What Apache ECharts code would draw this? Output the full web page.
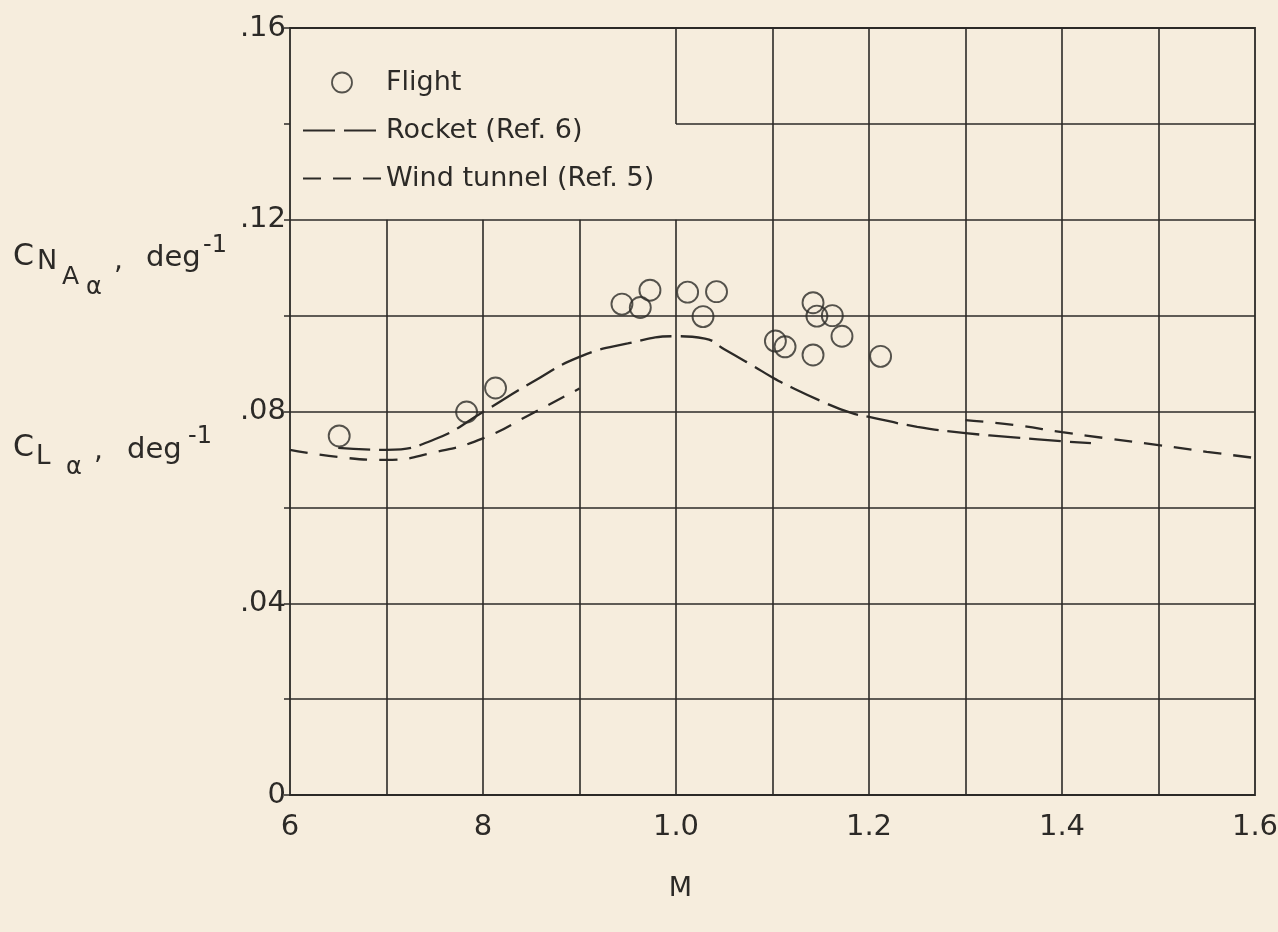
<!DOCTYPE html>
<html>
<head>
<meta charset="utf-8">
<title>Lift-curve slope vs Mach number</title>
<script src="https://cdn.jsdelivr.net/npm/echarts@6/dist/echarts.min.js"></script>
<style>
  html, body { margin: 0; padding: 0; background: #f6eddd; }
  #chart { width: 1278px; height: 932px; }
</style>
</head>
<body>
<div id="chart"></div>
<script>
// flight test points
const flightM  = [0.651, 0.783, 0.813, 0.944, 0.963, 0.973, 1.012, 1.028, 1.042, 1.103, 1.113, 1.142, 1.146, 1.162, 1.172, 1.142, 1.212];
const flightCN = [0.0749, 0.0799, 0.0849, 0.1024, 0.1017, 0.1053, 0.1049, 0.0998, 0.1050, 0.0947, 0.0935, 0.1027, 0.0999, 0.1000, 0.0957, 0.0918, 0.0915];

// rocket model (Ref. 6)
const rocketM  = [0.65, 0.70, 0.75, 0.80, 0.85, 0.90, 0.95, 1.00, 1.03, 1.05, 1.08, 1.10, 1.12, 1.15, 1.18, 1.20, 1.25, 1.30, 1.35, 1.40, 1.43];
const rocketCN = [0.0724, 0.0720, 0.0742, 0.0799, 0.0860, 0.0914, 0.0942, 0.0957, 0.0952, 0.0930, 0.0895, 0.0871, 0.0850, 0.0822, 0.0798, 0.0789, 0.0768, 0.0755, 0.0746, 0.0738, 0.0734];

// wind tunnel (Ref. 5), subsonic and supersonic branches
const tunnelLowM   = [0.60, 0.65, 0.70, 0.75, 0.80, 0.85, 0.90];
const tunnelLowCL  = [0.0720, 0.0705, 0.0699, 0.0715, 0.0744, 0.0795, 0.0848];
const tunnelHighM  = [1.30, 1.35, 1.40, 1.45, 1.50, 1.55, 1.60];
const tunnelHighCL = [0.0782, 0.0772, 0.0757, 0.0743, 0.0730, 0.0716, 0.0703];

// tick labels
const xTicks = [0.6, 0.8, 1.0, 1.2, 1.4, 1.6];
const xTickLabels = ['6', '8', '1.0', '1.2', '1.4', '1.6'];
const yTicks = [0, 0.04, 0.08, 0.12, 0.16];
const yTickLabels = ['0', '.04', '.08', '.12', '.16'];

// grid lines of the paper
const gridV = [0.7, 0.8, 0.9, 1.0, 1.1, 1.2, 1.3, 1.4, 1.5];
const gridH = [0.02, 0.04, 0.06, 0.08, 0.10, 0.12, 0.14];

const ink = '#2c2a27';
const font = "'DejaVu Sans', sans-serif";

function pairs(xs, ys) { return xs.map((x, i) => [x, ys[i]]); }
function lookup(vals, labels) {
  return v => {
    const i = vals.findIndex(t => Math.abs(t - v) < 1e-6);
    return i < 0 ? '' : labels[i];
  };
}

// vertical lines stop under the legend box, horizontal 0.14 only to the right of it
let segs = [];
gridV.forEach(x => {
  segs.push([{coord: [x, 0]}, {coord: [x, x > 1.05 ? 0.16 : 0.12]}]);
});
segs.push([{coord: [1.0, 0.14]}, {coord: [1.0, 0.16]}]);
gridH.forEach(y => {
  segs.push([{coord: [y > 0.13 ? 1.0 : 0.6, y]}, {coord: [1.6, y]}]);
});

const myChart = echarts.init(document.getElementById('chart'));

function txt(text, x, y, size) {
  return {
    type: 'text', x: x, y: y, silent: true,
    style: { text: text, fill: ink, font: size + 'px ' + font, verticalAlign: 'middle' }
  };
}

const noDot = { color: 'rgba(0,0,0,0)', borderWidth: 0 };

const option = {
  backgroundColor: '#f6eddd',
  animation: false,
  grid: {
    left: 290, right: 23, top: 28, bottom: 137,
    outerBoundsMode: 'none',
    show: true, borderColor: ink, borderWidth: 1.8, backgroundColor: 'transparent'
  },
  legend: {
    orient: 'vertical', left: 297, top: 64,
    itemWidth: 78, itemHeight: 20, itemGap: 21,
    selectedMode: false,
    textStyle: { fontSize: 27, color: ink, fontFamily: font },
    data: [
      { name: 'Flight', icon: 'circle', itemStyle: { color: 'rgba(0,0,0,0)', borderColor: ink, borderWidth: 1.8 } },
      'Rocket (Ref. 6)',
      'Wind tunnel (Ref. 5)'
    ]
  },
  xAxis: {
    type: 'value', min: 0.6, max: 1.6, interval: 0.1,
    name: 'M', nameLocation: 'middle', nameGap: 80,
    nameTextStyle: { fontSize: 27, color: ink, fontFamily: font, padding: [0, 184, 0, 0] },
    axisLine: { show: false },
    axisTick: { show: false },
    splitLine: { show: false },
    axisLabel: {
      formatter: lookup(xTicks, xTickLabels), margin: 18,
      fontSize: 29, color: ink, fontFamily: font
    }
  },
  yAxis: {
    type: 'value', min: 0, max: 0.16, interval: 0.02,
    axisLine: { show: false },
    axisTick: { show: true, length: 6, lineStyle: { color: ink, width: 1.5 } },
    splitLine: { show: false },
    axisLabel: {
      formatter: lookup(yTicks, yTickLabels), margin: 4,
      fontSize: 29, color: ink, fontFamily: font
    }
  },
  graphic: [
    txt('C', 13, 257, 30), txt('N', 37, 262, 27), txt('A', 62, 277, 25), txt('α', 86, 288, 24),
    txt(',', 114, 262, 28), txt('deg', 146, 258, 29), txt('-1', 203, 246, 24),
    txt('C', 13, 448, 30), txt('L', 36, 457, 26), txt('α', 66, 468, 24),
    txt(',', 94, 452, 28), txt('deg', 127, 450, 29), txt('-1', 188, 437, 24)
  ],
  series: [
    {
      name: 'grid', type: 'line', data: [], silent: true,
      markLine: {
        silent: true, symbol: ['none', 'none'], animation: false,
        label: { show: false },
        lineStyle: { color: ink, width: 1.6, type: 'solid' },
        emphasis: { disabled: true },
        data: segs
      }
    },
    {
      name: 'Flight', type: 'scatter', data: pairs(flightM, flightCN),
      symbol: 'circle', symbolSize: 21,
      itemStyle: { color: 'rgba(0,0,0,0)', borderColor: ink, borderWidth: 1.9 },
      z: 5
    },
    {
      name: 'Rocket (Ref. 6)', type: 'line', data: pairs(rocketM, rocketCN),
      smooth: true, symbol: 'none', itemStyle: noDot,
      lineStyle: { color: ink, width: 2.3, type: [32, 9] }
    },
    {
      name: 'Wind tunnel (Ref. 5)', type: 'line', data: pairs(tunnelLowM, tunnelLowCL),
      smooth: true, symbol: 'none', itemStyle: noDot,
      lineStyle: { color: ink, width: 2.3, type: [18, 12] }
    },
    {
      name: 'Wind tunnel (Ref. 5)', type: 'line', data: pairs(tunnelHighM, tunnelHighCL),
      smooth: true, symbol: 'none', itemStyle: noDot,
      lineStyle: { color: ink, width: 2.3, type: [18, 12] }
    }
  ]
};

myChart.setOption(option);
</script>
</body>
</html>
